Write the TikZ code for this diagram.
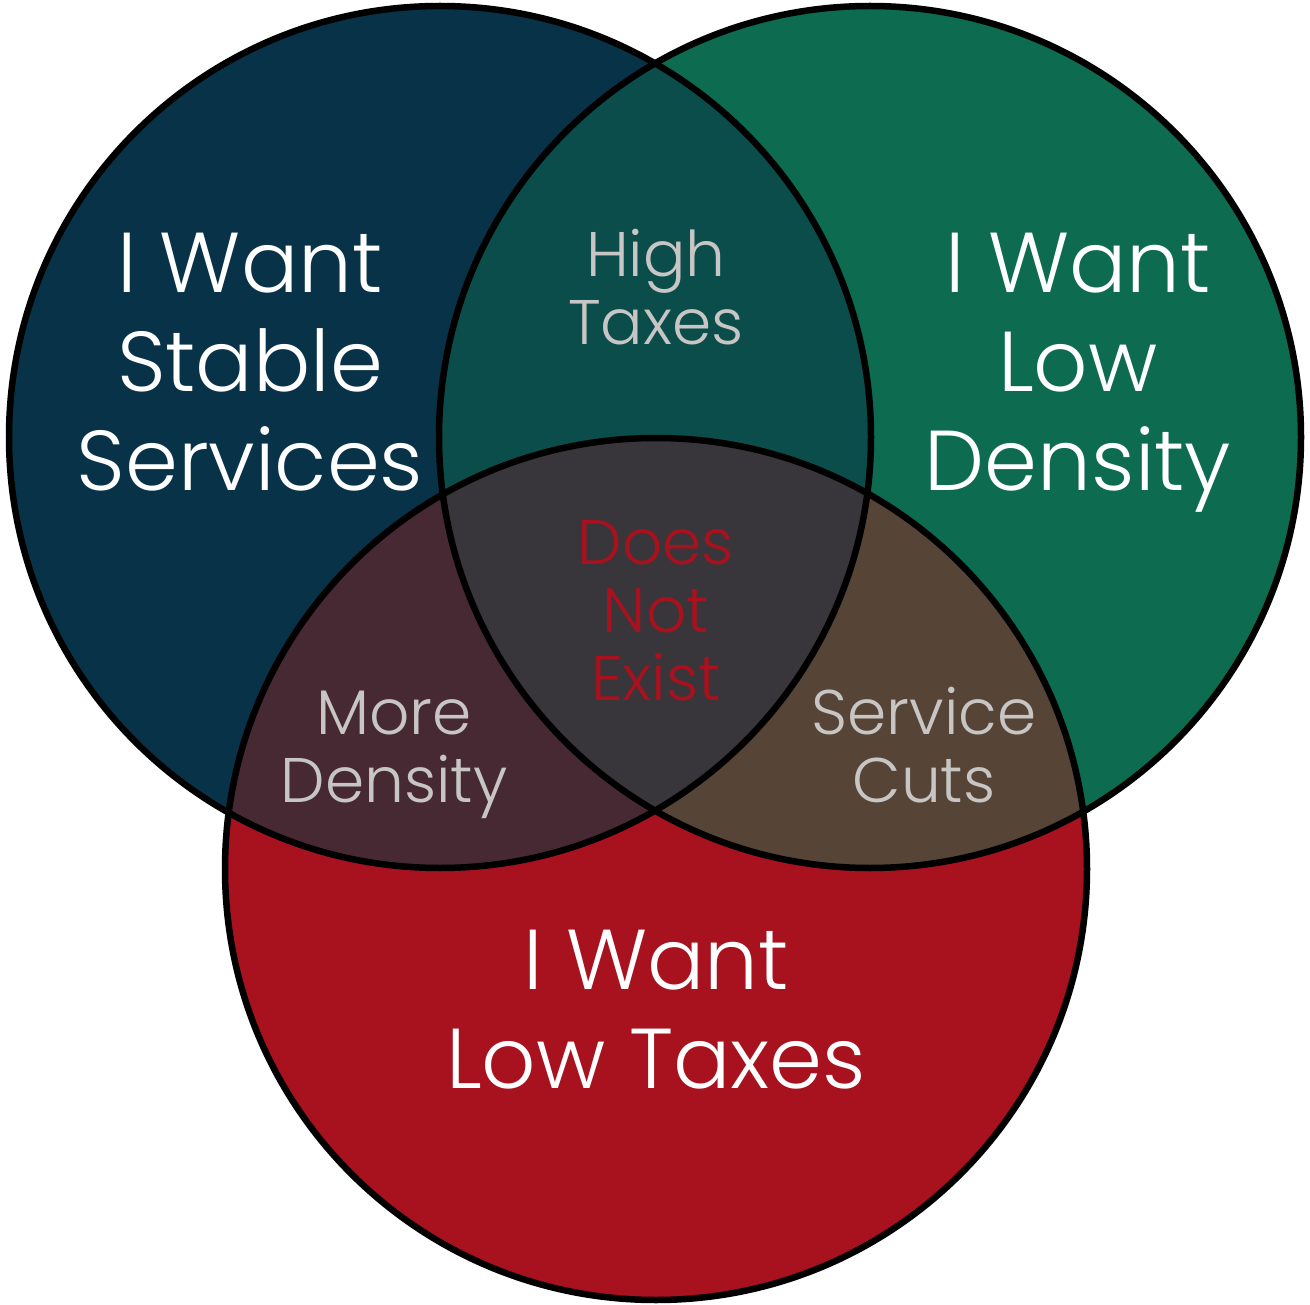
\documentclass[tikz,border=0pt]{standalone}
\usepackage{fontspec}
\setmainfont{Poppins}[UprightFont=* Light]
\definecolor{navy}{HTML}{083247}
\definecolor{grn}{HTML}{0D6B50}
\definecolor{redc}{HTML}{A8111E}
\definecolor{topx}{HTML}{0B4D4A}
\definecolor{leftx}{HTML}{472934}
\definecolor{rightx}{HTML}{564536}
\definecolor{midx}{HTML}{38363A}
\definecolor{lbl}{HTML}{C8C6C4}
\definecolor{redtxt}{HTML}{A8111E}
\begin{document}
\begin{tikzpicture}[x=1pt,y=-1pt,
  bigtxt/.style={align=center,text=white,inner sep=0pt,anchor=base,
    font=\fontsize{85}{99}\selectfont},
  smalltxt/.style={align=center,text=lbl,inner sep=0pt,anchor=base,
    font=\fontsize{63}{68}\selectfont},
  ring/.style={draw=black,line width=6.5pt}]
\useasboundingbox (0,0) rectangle (1310,1305);
\def\Ra{431pt}
\coordinate (c1) at (440,437);
\coordinate (c2) at (870,437);
\coordinate (c3) at (656,869);
% base fills
\fill[navy] (c1) circle[radius=\Ra];
\fill[grn] (c2) circle[radius=\Ra];
\fill[redc] (c3) circle[radius=\Ra];
% pairwise overlaps
\begin{scope}
  \clip (c1) circle[radius=\Ra];
  \fill[topx] (c2) circle[radius=\Ra];
  \fill[leftx] (c3) circle[radius=\Ra];
\end{scope}
\begin{scope}
  \clip (c2) circle[radius=\Ra];
  \fill[rightx] (c3) circle[radius=\Ra];
\end{scope}
\begin{scope}
  \clip (c1) circle[radius=\Ra];
  \clip (c2) circle[radius=\Ra];
  \fill[midx] (c3) circle[radius=\Ra];
\end{scope}
% outlines
\draw[ring] (c1) circle[radius=\Ra];
\draw[ring] (c2) circle[radius=\Ra];
\draw[ring] (c3) circle[radius=\Ra];
% labels (anchor = baseline of last line)
\node[bigtxt] (services) at (250,490) {I Want\\Stable\\Services};
\node[bigtxt] (density) at (1078,490) {I Want\\Low\\Density};
\node[bigtxt] (taxes) at (656,1088) {I Want\\Low Taxes};
\node[smalltxt] (high) at (656,345) {High\\Taxes};
\node[smalltxt] (more) at (394,802) {More\\Density};
\node[smalltxt] (cuts) at (924,802) {Service\\Cuts};
\node[smalltxt,text=redtxt] (dne) at (656,700) {Does\\Not\\Exist};
\end{tikzpicture}
\end{document}
